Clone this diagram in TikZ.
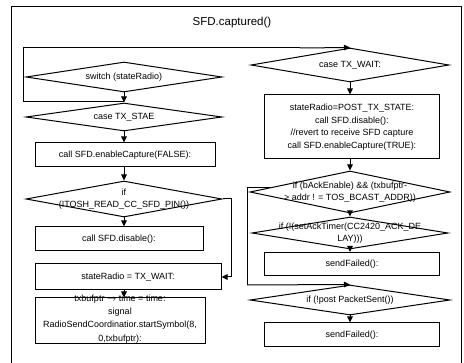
\documentclass[tikz,border=0pt]{standalone}
\usepackage{fontspec}
\setmainfont{Liberation Sans}
\usetikzlibrary{shapes.geometric,arrows.meta,calc}
\begin{document}
\begin{tikzpicture}[x=1pt,y=-1pt,
 every node/.style={font=\fontsize{9}{12.5}\selectfont},
 box/.style={draw, line width=1pt, inner sep=0pt, align=center},
 dia/.style={draw, diamond, line width=1pt, inner sep=0pt},
 lbl/.style={align=center, inner sep=0pt},
 arr/.style={line width=1pt, -{Triangle[length=6pt,width=5.5pt]}},
 ln/.style={line width=1pt}]
\useasboundingbox (0,0) rectangle (464,363);
\draw[ln] (11,363) -- (11,7) -- (461,7) -- (461,363);
\node[lbl, font=\fontsize{11.5}{14}\selectfont] (title) at (232,23) {SFD.captured()};
% left column
\node[dia, minimum width=196pt, minimum height=30pt] (sw) at (124,77) {};
\node[lbl] (swt) at (sw) {switch (stateRadio)};
\node[dia, minimum width=196pt, minimum height=28pt] (cs) at (124,117) {};
\node[lbl] (cst) at (cs) {case TX\_STAE};
\node[box, minimum width=180pt, minimum height=24pt] (en) at (125,155) {call SFD.enableCapture(FALSE):};
\node[dia, minimum width=196pt, minimum height=36pt] (dif) at (124,199) {};
\node[lbl] (dift) at (dif) {if\\(!TOSH\_READ\_CC\_SFD\_PIN())};
\node[box, minimum width=168pt, minimum height=24pt] (dis) at (119,239) {call SFD.disable():};
\node[box, minimum width=186pt, minimum height=26pt] (sr) at (128,277) {stateRadio = TX\_WAIT:};
\node[box, minimum width=170pt, minimum height=46pt] (tx) at (120,321) {};
\node[lbl, font=\fontsize{9}{13.3}\selectfont, yshift=2pt] (txt) at (tx) {txbufptr $\rightarrow$ time = time:\\signal\\RadioSendCoordinatior.startSymbol(8,\\0,txbufptr):};
% right column
\node[dia, minimum width=198pt, minimum height=34pt] (tw) at (350,65) {};
\node[lbl] (twt) at (tw) {case TX\_WAIT:};
\node[box, minimum width=175pt, minimum height=64pt] (post) at (352,127) {stateRadio=POST\_TX\_STATE:\\call SFD.disable():\\//revert to receive SFD capture\\call SFD.enableCapture(TRUE):};
\node[dia, minimum width=200pt, minimum height=42pt] (bk) at (350,192) {};
\node[lbl] (bkt) at (bk) {if (bAckEnable) \&\& (txbufptr-\\> addr ! = TOS\_BCAST\_ADDR))};
\node[dia, minimum width=196pt, minimum height=32pt] (sa) at (350,233) {};
\node[lbl] (sat) at (sa) {if (!(setAckTimer(CC2420\_ACK\_DE\\LAY)))};
\node[box, minimum width=175pt, minimum height=23pt] (sf1) at (352,264) {sendFailed():};
\node[dia, minimum width=200pt, minimum height=30pt] (pk) at (350,300) {};
\node[lbl] (pkt) at (pk) {if (!post PacketSent())};
\node[box, minimum width=175pt, minimum height=24pt] (sf2) at (352,335) {sendFailed():};
% connectors left
\coordinate (j1) at (124,102);
\draw[arr] (sw.south) -- (cs.north);
\draw[ln] (j1) -- (23,102) -- (23,48) -- (300,48);
\draw[arr] (300,48) -- (tw.north);
\draw[arr] (cs.south) -- (cs.south |- en.north);
\draw[arr] (en.south -| dif.north) -- (dif.north);
\draw[arr] (dif.south) -- (dif.south |- dis.north);
\draw[arr] (dif.east) -- ++(9,0) |- (sr.east);
\draw[arr] (dif.south |- sr.south) -- (dif.south |- tx.north);
% connectors right
\draw[arr] (tw.south) -- (tw.south |- post.north);
\draw[arr] (post.south -| bk.north) -- (bk.north);
\draw[arr] (bk.south) -- (sa.north);
\draw[arr] (sa.south) -- (sa.south |- sf1.north);
\coordinate (lp) at ($(bk.west)!0.2!(bk.north)$);
\draw[ln] (lp) -- (247,0 |- lp) -- (247,285);
\draw[arr] (247,285) -- (pk.north);
\draw[arr] (pk.south) -- (pk.south |- sf2.north);
\end{tikzpicture}
\end{document}
